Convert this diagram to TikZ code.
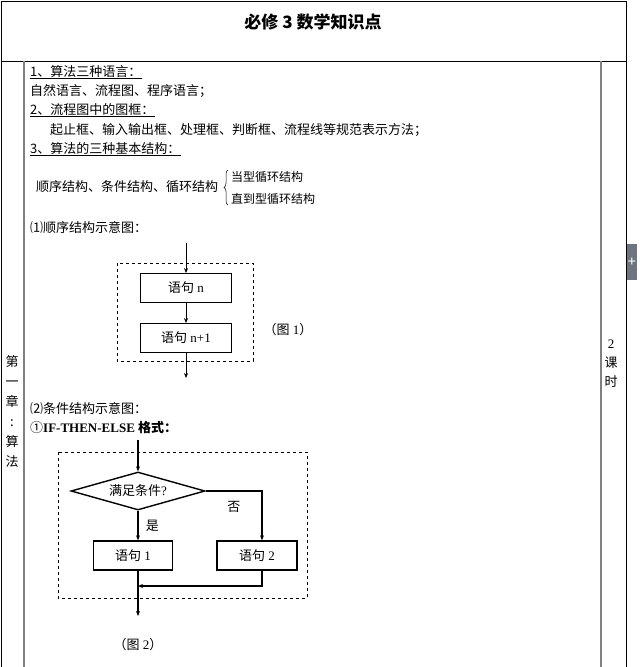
\documentclass[tikz,border=0pt]{standalone}
\usepackage{fontspec}
\setmainfont{Liberation Serif}
\newfontfamily\cjk{Noto Sans CJK SC}
\usetikzlibrary{shapes.geometric,arrows.meta,decorations.pathreplacing}
\definecolor{tabgray}{HTML}{6E7580}
\newcommand{\textline}[4] {
    \node[anchor=west,inner sep=0pt] (#1) at (#2, #3) {\cjk #4};
}
\newcommand{\headline}[4] {
    \node[anchor=west,inner sep=0pt] (#1) at (#2, #3) {\cjk #4};
    \draw[line width=1.3pt] ([yshift=-0.6pt]#1.south west) -- ([yshift=-0.6pt]#1.south east);
}
\begin{document}
\begin{tikzpicture}[x=1pt,y=-1pt,
        every node/.style={font=\fontsize{13}{15}\selectfont},
        tableline/.style={line width=0.9pt},
        colline/.style={line width=2pt,draw=gray},
        stmt/.style={draw,line width=0.8pt,minimum height=29pt,inner sep=0pt},
        stmtthick/.style={stmt,line width=1.4pt},
        frame/.style={draw,dashed,line width=0.6pt}]
        \useasboundingbox (0,0) rectangle (640,667);
        % table
        \draw[tableline] (1,667) -- (1,1) -- (626,1) -- (626,667);
        \draw[tableline] (1,61) -- (626,61);
        \draw[colline] (24,61) -- (24,667);
        \draw[colline] (601,61) -- (601,667);
        \node[fill=tabgray,text=white,minimum width=10pt,minimum height=36pt,inner sep=0pt,font=\fontsize{15}{15}\selectfont\bfseries] (tab) at (632,262) {+};
        \node[font=\fontsize{17}{19}\selectfont\cjk\bfseries] (title) at (313,22) {必修 3 数学知识点};
        \node[align=center,inner sep=0pt,font=\fontsize{13}{20}\selectfont\cjk] (chapter) at (12,412) {第\\一\\章\\:\\算\\法};
        \node[align=center,inner sep=0pt,font=\fontsize{13}{19}\selectfont] (hours) at (611,364) {2\\{\cjk 课}\\{\cjk 时}};
        % text
        \headline{lang}{30}{72}{1、算法三种语言：}
        \textline{langs}{30}{91}{自然语言、流程图、程序语言；}
        \headline{boxes}{30}{110}{2、流程图中的图框：}
        \textline{boxlist}{50}{130}{起止框、输入输出框、处理框、判断框、流程线等规范表示方法；}
        \headline{struct}{30}{149}{3、算法的三种基本结构：}
        \textline{structs}{36}{187}{顺序结构、条件结构、循环结构}
        \draw[decorate,decoration={brace,amplitude=4pt},line width=0.5pt] (228,205) -- (228,170);
        \node[anchor=west,inner sep=0pt,font=\fontsize{12}{14}\selectfont\cjk] (whileloop) at (231,177) {当型循环结构};
        \node[anchor=west,inner sep=0pt,font=\fontsize{12}{14}\selectfont\cjk] (untilloop) at (231,199) {直到型循环结构};
        \textline{seqhead}{30}{228}{⑴顺序结构示意图：}
        % figure 1
        \coordinate (f1in) at (186,243);
        \coordinate (f1out) at (186,378);
        \node[stmt,minimum width=91pt] (s1) at (186,288) {{\cjk 语句} n};
        \node[stmt,minimum width=91pt] (s2) at (186,338) {{\cjk 语句} n+1};
        \draw[frame] (117,263) rectangle (253,361);
        \node (fig1) at (288,330) {{\cjk （图} 1{\cjk ）}};
        % figure 2
        \textline{condhead}{30}{409}{⑵条件结构示意图：}
        \node[anchor=west,inner sep=0pt] (ifhead) at (30,428) {{\cjk ①}\textbf{IF-THEN-ELSE} {\cjk\bfseries 格式：}};
        \coordinate (f2in) at (138,440);
        \coordinate (f2out) at (138,616);
        \coordinate (join) at (262,586);
        \node[draw,diamond,aspect=3.5,line width=1.4pt,minimum width=134pt,minimum height=38pt,inner sep=0pt] (cond) at (138,491) {{\cjk 满足条件}?};
        \node[stmtthick,minimum width=79pt] (b1) at (133,555.5) {{\cjk 语句} 1};
        \node[stmtthick,minimum width=80pt] (b2) at (257,555.5) {{\cjk 语句} 2};
        \draw[frame] (58,452) rectangle (307,598);
        \node (fig2) at (138,645) {{\cjk （图} 2{\cjk ）}};
        \begin{scope}[every path/.style={
                line width=0.7pt,
                -{Stealth[length=5pt,width=4pt]}
            }]
            \draw (f1in) -- (s1);
            \draw (s1) -- (s2);
            \draw (s2) -- (f1out);
        \end{scope}
        \begin{scope}[every path/.style={
                line width=1.1pt,
                -{Stealth[length=5pt,width=4pt]}
            }]
            \draw (f2in) -- (cond);
            \draw (cond.south) -- node[right=4pt] {\cjk 是} (cond.south |- b1.north);
            \draw (cond.east) -| node[pos=0.25,below=6pt] {\cjk 否} (join |- b2.north);
            \draw (join |- b2.south) -- (join) -- (join -| f2in);
            \draw (f2in |- b1.south) -- (f2out);
        \end{scope}
    \end{tikzpicture}
\end{document}
